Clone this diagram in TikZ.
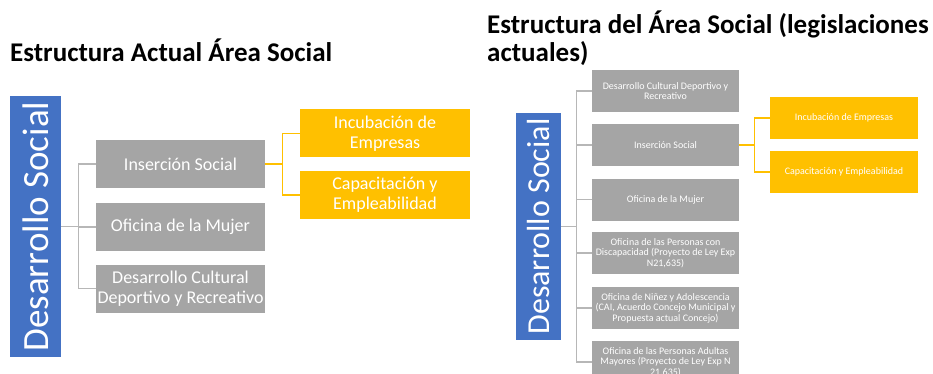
\documentclass[tikz,border=0pt]{standalone}
\usepackage{fontspec}
\setmainfont{Carlito}
\definecolor{azul}{HTML}{4472C4}
\definecolor{gris}{HTML}{A5A5A5}
\definecolor{oro}{HTML}{FFC000}
\tikzset{
  raiz/.style={fill=azul, text=white, rotate=90, inner sep=0pt},
  caja/.style={fill=gris, text=white, align=center, inner sep=0pt},
  hoja/.style={fill=oro, text=white, align=center, inner sep=0pt},
  rama/.style={draw=gris!80, line width=1.2pt},
  ramaoro/.style={draw=oro, line width=1.2pt},
  grande/.style={minimum width=169pt, minimum height=48pt, font=\fontsize{18}{19.5}\selectfont},
  chica/.style={minimum width=147pt, minimum height=42pt, font=\fontsize{10}{10.6}\selectfont},
}
\begin{document}
\begin{tikzpicture}[x=1pt,y=-1pt]
        \useasboundingbox (0,0) rectangle (933,374);
        \clip (0,0) rectangle (933,374);
        % 标题
        \node[anchor=base west, inner sep=0pt, font=\fontsize{27}{28}\selectfont\bfseries] (tA) at (10,62) {Estructura Actual Área Social};
        \node[anchor=base west, inner sep=0pt, align=left, font=\fontsize{27}{28}\selectfont\bfseries] (tB) at (487,62) {Estructura del Área Social (legislaciones\\actuales)};

        % 设置节点 (左)
        \node[raiz, minimum width=261pt, minimum height=51pt, font=\fontsize{37}{40}\selectfont] (dsA) at (35.5,226.5) {Desarrollo Social};
        \node[caja, grande] (insA) at (180.5,164) {Inserción Social};
        \node[caja, grande] (mujA) at (180.5,227) {Oficina de la Mujer};
        \node[caja, grande] (depA) at (180.5,288.5) {Desarrollo Cultural\\Deportivo y Recreativo};
        \node[hoja, grande, minimum width=170pt] (incA) at (385,133.5) {Incubación de\\Empresas};
        \node[hoja, grande, minimum width=170pt] (capA) at (385,195) {Capacitación y\\Empleabilidad};

        % 设置节点 (右)
        \node[raiz, minimum width=227pt, minimum height=45pt, font=\fontsize{32}{34}\selectfont] (dsB) at (538.5,226.5) {Desarrollo Social};
        \node[caja, chica] (culB) at (665.5,91) {Desarrollo Cultural Deportivo y\\Recreativo};
        \node[caja, chica] (insB) at (665.5,145) {Inserción Social};
        \node[caja, chica] (mujB) at (665.5,199.5) {Oficina de la Mujer};
        \node[caja, chica] (disB) at (665.5,253) {Oficina de las Personas con\\Discapacidad (Proyecto de Ley Exp\\N21,635)};
        \node[caja, chica] (ninB) at (665.5,308) {Oficina de Niñez y Adolescencia\\(CAI, Acuerdo Concejo Municipal y\\Propuesta actual Concejo)};
        \node[caja, chica] (mayB) at (665.5,362) {Oficina de las Personas Adultas\\Mayores (Proyecto de Ley Exp N\\21,635)};
        \node[hoja, chica, minimum width=148pt] (incB) at (844,118) {Incubación de Empresas};
        \node[hoja, chica, minimum width=148pt] (capB) at (844,172) {Capacitación y Empleabilidad};

        % 画连线
        \draw[rama] (dsA.south) -- ++(17,0) |- (insA.west);
        \draw[rama] (dsA.south) -- ++(17,0) |- (mujA.west);
        \draw[rama] (dsA.south) -- ++(17,0) |- (depA.west);
        \draw[ramaoro] (insA.east) -- ++(17,0) |- (incA.west);
        \draw[ramaoro] (insA.east) -- ++(17,0) |- (capA.west);
        \draw[rama] (dsB.south) -- ++(15,0) |- (culB.west);
        \draw[rama] (dsB.south) -- ++(15,0) |- (insB.west);
        \draw[rama] (dsB.south) -- ++(15,0) |- (mujB.west);
        \draw[rama] (dsB.south) -- ++(15,0) |- (disB.west);
        \draw[rama] (dsB.south) -- ++(15,0) |- (ninB.west);
        \draw[rama] (dsB.south) -- ++(15,0) |- (mayB.west);
        \draw[ramaoro] (insB.east) -- ++(15,0) |- (incB.west);
        \draw[ramaoro] (insB.east) -- ++(15,0) |- (capB.west);
    \end{tikzpicture}
\end{document}
